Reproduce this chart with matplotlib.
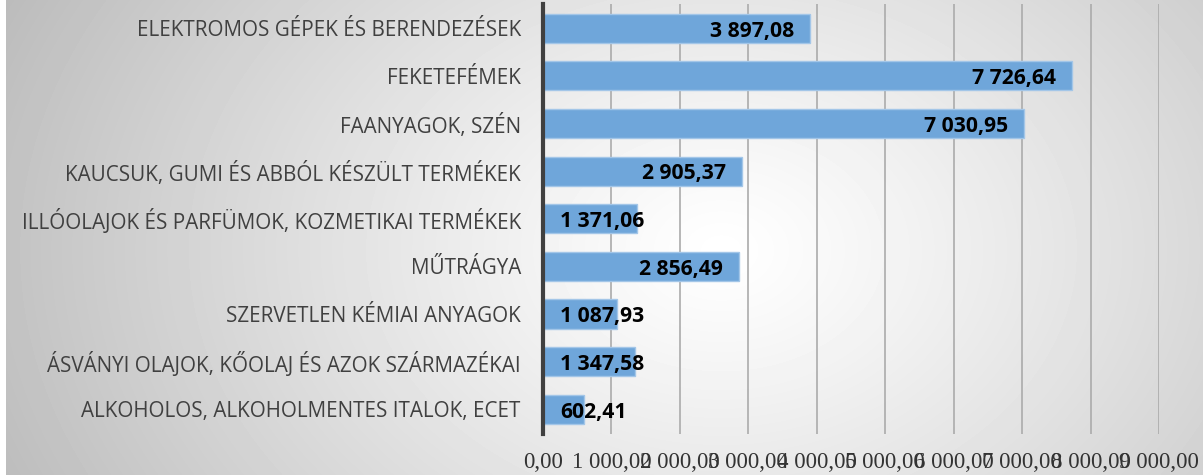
import numpy as np
import matplotlib
matplotlib.use("Agg")
import matplotlib.pyplot as plt

# categories listed top to bottom, as in the chart
categories = [
    "ELEKTROMOS GÉPEK ÉS BERENDEZÉSEK",
    "FEKETEFÉMEK",
    "FAANYAGOK, SZÉN",
    "KAUCSUK, GUMI ÉS ABBÓL KÉSZÜLT TERMÉKEK",
    "ILLÓOLAJOK ÉS PARFÜMOK, KOZMETIKAI TERMÉKEK",
    "MŰTRÁGYA",
    "SZERVETLEN KÉMIAI ANYAGOK",
    "ÁSVÁNYI OLAJOK, KŐOLAJ ÉS AZOK SZÁRMAZÉKAI",
    "ALKOHOLOS, ALKOHOLMENTES ITALOK, ECET",
]
values = [3897.08, 7726.64, 7030.95, 2905.37, 1371.06, 2856.49, 1087.93, 1347.58, 602.41]
x_ticks = [0, 1000, 2000, 3000, 4000, 5000, 6000, 7000, 8000, 9000]


def hu_fmt(v):
    # Hungarian style: space as thousands separator, comma as decimal mark
    s = f"{v:,.2f}"
    return s.replace(",", " ").replace(".", ",")


W, H = 1203, 475
fig = plt.figure(figsize=(W / 100, H / 100), dpi=100)
fig.patch.set_facecolor("white")

# radial grey-to-white background
bg = fig.add_axes([6 / W, 0, 1 - 6 / W, 1])
yy, xx = np.mgrid[0:H, 0:W - 6]
r = np.sqrt(((xx - 715) / 700.0) ** 2 + ((yy - 250) / 520.0) ** 2)
shade = 1 - 0.23 * np.clip(r, 0, 1.2) ** 1.15
bg.imshow(shade, cmap="gray", vmin=0, vmax=1, aspect="auto", interpolation="bilinear")
bg.axis("off")

ax = fig.add_axes([543 / W, (H - 434) / H, (1159 - 543) / W, 430 / H])
ax.patch.set_alpha(0)

y = np.arange(len(categories))[::-1]
ax.barh(y, values, height=0.61, color="#6fa6da", edgecolor="#a3c6e8", linewidth=1, zorder=3)

ax.set_xlim(0, 9000)
ax.set_ylim(-0.52, 8.51)
ax.set_xticks(x_ticks)
ax.set_xticklabels([hu_fmt(t) for t in x_ticks], family="Liberation Serif",
                   fontsize=16.5, color="#333333")
ax.set_yticks(y)
ax.set_yticklabels(categories, family="Open Sans", fontsize=14.9, color="#404040")
ax.tick_params(axis="y", length=0, pad=16)
ax.tick_params(axis="x", length=0, pad=13)

ax.grid(axis="x", color="#ababab", linewidth=1.2, zorder=0)
for side in ["top", "right", "bottom"]:
    ax.spines[side].set_visible(False)
ax.spines["left"].set_color("#404040")
ax.spines["left"].set_linewidth(3)
ax.spines["left"].set_zorder(4)

# value labels: inside end, pushed to the axis when the bar is short
for yi, v in zip(y, values):
    if v > 2500:
        ax.annotate(hu_fmt(v), (v, yi), xytext=(-11.5, -2), textcoords="offset points",
                    ha="right", va="center", family="Open Sans", fontweight="bold",
                    fontsize=15.2, color="black", zorder=5)
    else:
        ax.annotate(hu_fmt(v), (0, yi), xytext=(12.5, -2), textcoords="offset points",
                    ha="left", va="center", family="Open Sans", fontweight="bold",
                    fontsize=15.2, color="black", zorder=5)

fig.savefig("out.png", dpi=100)
